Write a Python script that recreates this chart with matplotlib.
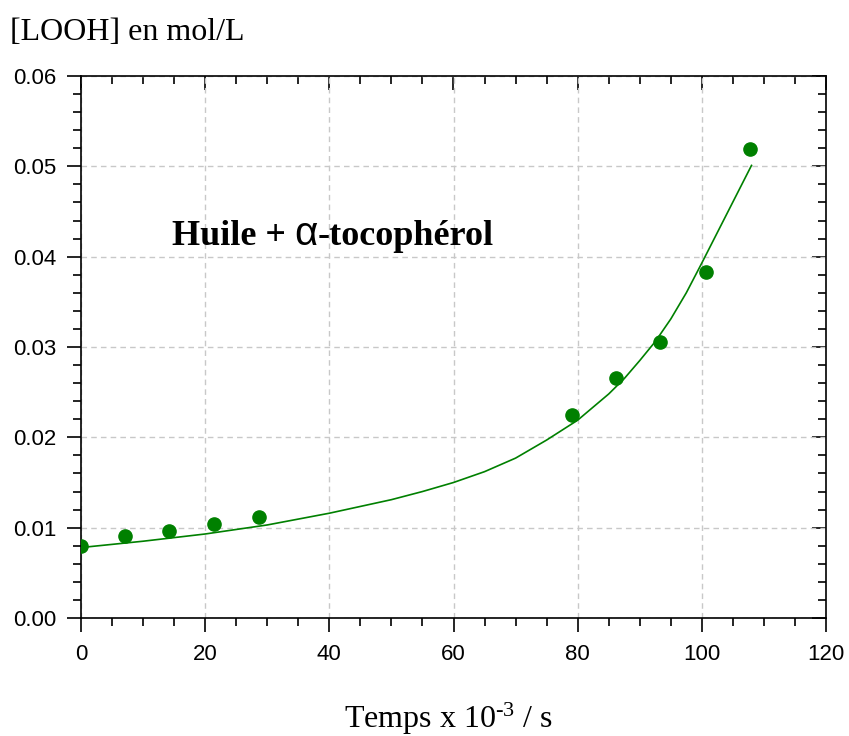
"""[LOOH] vs temps : huile + alpha-tocophérol (points mesurés + courbe ajustée)."""

import matplotlib
matplotlib.use("Agg")
import matplotlib.pyplot as plt
from matplotlib.ticker import MultipleLocator
from matplotlib.offsetbox import TextArea, HPacker, AnnotationBbox

plt.rcParams["mathtext.fontset"] = "custom"
plt.rcParams["mathtext.rm"] = "Liberation Serif"
plt.rcParams["mathtext.it"] = "Liberation Serif:italic"
plt.rcParams["mathtext.bf"] = "Liberation Serif:bold"

GREEN = "#008000"

# points mesurés (temps x 10^-3 s, mol/L)
t_mes = [0, 7.1, 14.2, 21.4, 28.7, 79.1, 86.2, 93.2, 100.6, 107.7]
c_mes = [0.0080, 0.0091, 0.0096, 0.0104, 0.0112, 0.0225, 0.0266, 0.0306, 0.0383, 0.0519]

# courbe ajustée
t_fit = [0, 10, 20, 30, 40, 50, 55, 60, 65, 70, 75, 80, 85, 87.5, 90, 92.5, 95,
         97.5, 100, 102, 104, 106, 108]
c_fit = [0.0078, 0.0085, 0.0093, 0.0103, 0.0116, 0.0131, 0.0140, 0.0150, 0.0162,
         0.0177, 0.0197, 0.0219, 0.0248, 0.0265, 0.0285, 0.0306, 0.0331,
         0.0360, 0.0393, 0.0420, 0.0447, 0.0474, 0.0501]

fig = plt.figure(figsize=(8.49, 7.36), dpi=100)
ax = fig.add_axes([81 / 849, 1 - 618 / 736, 745 / 849, 542 / 736])

ax.plot(t_fit, c_fit, "-", color=GREEN, lw=1.2, zorder=3)
ax.plot(t_mes, c_mes, "o", color=GREEN, ms=9.5, mec=GREEN, zorder=4)

ax.set_xlim(0, 120)
ax.set_ylim(0, 0.06)
ax.xaxis.set_major_locator(MultipleLocator(20))
ax.xaxis.set_minor_locator(MultipleLocator(5))
ax.yaxis.set_major_locator(MultipleLocator(0.01))
ax.yaxis.set_minor_locator(MultipleLocator(0.002))
ax.yaxis.set_major_formatter(plt.FuncFormatter(lambda v, _: f"{v:.2f}"))
ax.grid(True, which="major", color="#c8c8c8", ls=(0, (4, 3)), lw=1.0)

for s in ax.spines.values():
    s.set_linewidth(1.2)
ax.tick_params(which="both", direction="out", width=1.2, labelsize=16,
               top=False, right=False)
ax.tick_params(which="major", length=10)
ax.tick_params(which="minor", length=5.5)
ax.tick_params(axis="y", pad=8)
ax.tick_params(axis="x", pad=9)
for lab in ax.get_xticklabels() + ax.get_yticklabels():
    lab.set_fontfamily("Liberation Sans")

# ticks intérieurs en haut et à droite
sec_x = ax.secondary_xaxis("top")
sec_y = ax.secondary_yaxis("right")
for sec in (sec_x, sec_y):
    sec.tick_params(which="both", direction="in", width=1.2, labelsize=0)
    sec.tick_params(which="major", length=10)
    sec.tick_params(which="minor", length=5.5)
    for s in sec.spines.values():
        s.set_visible(False)
sec_x.xaxis.set_major_locator(MultipleLocator(20))
sec_x.xaxis.set_minor_locator(MultipleLocator(5))
sec_x.set_xticklabels([])
sec_y.yaxis.set_major_locator(MultipleLocator(0.01))
sec_y.yaxis.set_minor_locator(MultipleLocator(0.002))
sec_y.set_yticklabels([])

# titre dans le graphe, alpha en police sans
serif_b = dict(fontsize=26, fontweight="bold", family="Liberation Serif")
parts = [TextArea("Huile + ", textprops=serif_b),
         TextArea("α", textprops=dict(fontsize=29, family="Liberation Sans")),
         TextArea("-tocophérol", textprops=serif_b)]
box = HPacker(children=parts, align="baseline", pad=0, sep=0)
ab = AnnotationBbox(box, (14.6, 0.0413), xycoords="data", frameon=False,
                    box_alignment=(0, 0.22), pad=0)
ax.add_artist(ab)

fig.text(10 / 849, 1 - 39.5 / 736, "[LOOH] en mol/L", fontsize=23,
         family="Liberation Serif", va="baseline", ha="left")
fig.text(448.5 / 849, 1 - 728 / 736, r"Temps x 10$^{\text{-3}}$ / s", fontsize=23,
         family="Liberation Serif", va="baseline", ha="center")

fig.savefig("out.png", dpi=100)
